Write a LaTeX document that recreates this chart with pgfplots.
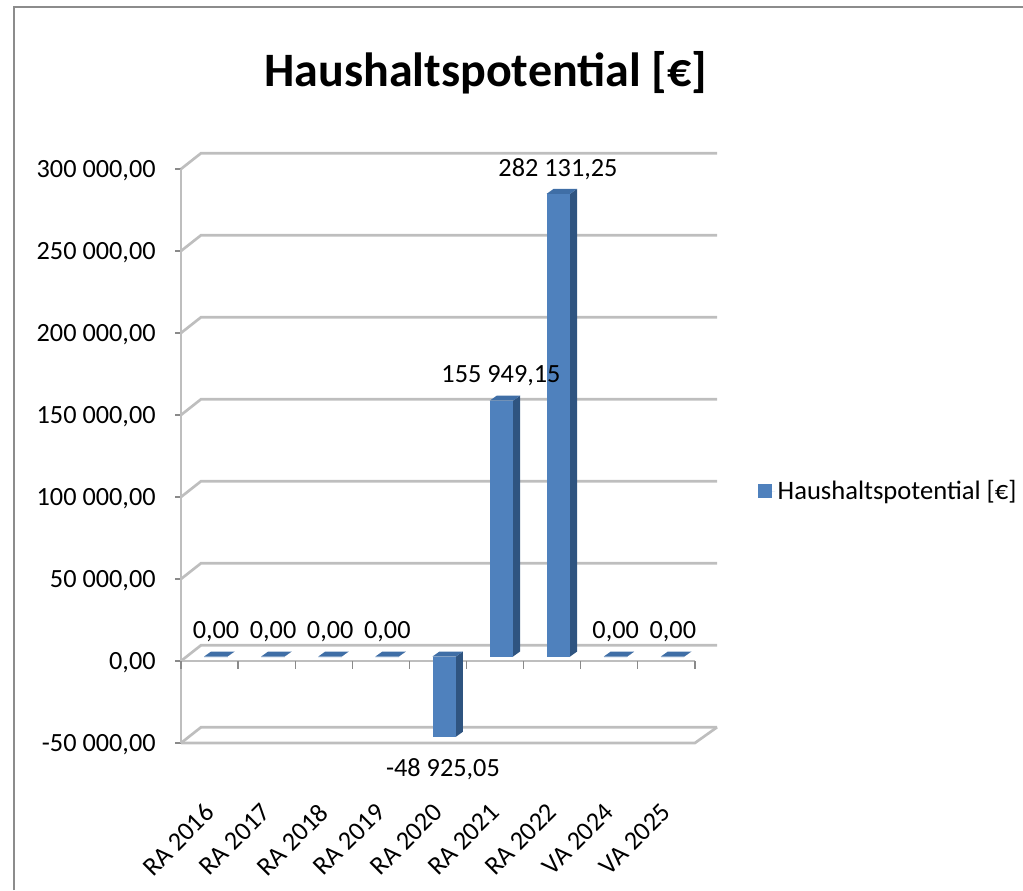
\documentclass[border=0pt]{standalone}
\usepackage{fontspec}
\setmainfont{Carlito}
\usepackage{pgfplots}
\pgfplotsset{compat=1.18}
\definecolor{barfront}{HTML}{4F81BD}
\definecolor{barside}{HTML}{2F5480}
\definecolor{bartop}{HTML}{3F6EA6}
\definecolor{gridgray}{HTML}{BEBEBE}
\definecolor{tickgray}{HTML}{8A8A8A}
\definecolor{framegray}{HTML}{8C8C8C}
% one 3-D bar: centre of category, value
\newcommand{\threedbar}[2]{%
  \edef\tmpa{\fpeval{#1+0.11-0.205}}\edef\tmpb{\fpeval{#1+0.11+0.205}}%
  \edef\ybase{\fpeval{2744}}\edef\yval{\fpeval{#2+2744}}\edef\ytop{\fpeval{max(#2,0)+2744}}%
  \edef\tmp{%
    \noexpand\addplot[forget plot,fill=barside,draw=none] coordinates {(\tmpb,\ybase) (\fpeval{\tmpb+0.1226},\fpeval{\ybase+3049}) (\fpeval{\tmpb+0.1226},\fpeval{\yval+3049}) (\tmpb,\yval)};
    \noexpand\addplot[forget plot,fill=barfront,draw=none] coordinates {(\tmpa,\ybase) (\tmpb,\ybase) (\tmpb,\yval) (\tmpa,\yval)};
    \noexpand\addplot[forget plot,fill=bartop,draw=none] coordinates {(\tmpa,\ytop) (\tmpb,\ytop) (\fpeval{\tmpb+0.1226},\fpeval{\ytop+3049}) (\fpeval{\tmpa+0.1226},\fpeval{\ytop+3049})};
  }\tmp}
% one grid line: front-left, back-left, back-right
\newcommand{\wallline}[1]{%
  \edef\tmp{\noexpand\addplot[forget plot,gridgray,line width=2pt] coordinates {(0,#1) (0.35,\fpeval{#1+9600}) (9.387,\fpeval{#1+9600})};}\tmp}
\begin{document}
\begin{tikzpicture}
\path[use as bounding box] (0,0) rectangle (767.25pt,667.5pt);
\draw[framegray,line width=1.2pt] (10.5pt,0) -- (10.5pt,662.25pt) -- (767.25pt,662.25pt);
\begin{axis}[
  at={(135.75pt,110.25pt)},anchor=south west,
  scale only axis,width=402pt,height=442.5pt,
  xmin=0,xmax=9.387,ymin=-50000,ymax=309750,
  clip=false,
  scaled ticks=false,
  axis line style={draw=none},
  tick pos=left,tick align=outside,major tick length=4.5pt,
  y tick style={tickgray,line width=1pt},
  x tick style={draw=none},
  ytick={-50000,0,50000,100000,150000,200000,250000,300000},
  yticklabels={{-50 000,00},{0,00},{50 000,00},{100 000,00},{150 000,00},{200 000,00},{250 000,00},{300 000,00}},
  yticklabel style={font=\fontsize{19.7}{24}\selectfont,xshift=-11pt,yshift=-1.5pt},
  xtick={0.5,1.5,2.5,3.5,4.5,5.5,6.5,7.5,8.5},
  xticklabels={RA 2016,RA 2017,RA 2018,RA 2019,RA 2020,RA 2021,RA 2022,VA 2024,VA 2025},
  xticklabel style={font=\fontsize{19.7}{24}\selectfont,xshift=-4.75pt,yshift=-34.75pt,rotate=45,anchor=north east},
  title={\bfseries Haushaltspotential [€]},
  title style={at={(0.5687,1.1220)},anchor=center,font=\fontsize{36}{44}\selectfont},
  legend style={at={(1.0765,0.427)},anchor=west,draw=none,fill=none,inner sep=0pt,outer sep=0pt,
    font=\fontsize{19.95}{24}\selectfont},
  legend cell align=left,
  legend image code/.code={\path (0pt,0pt) -- (12.75pt,0pt);\fill[#1] (0pt,-5.25pt) rectangle (10.5pt,5.25pt);},
]
\addlegendimage{fill=barfront,draw=none}
\addlegendentry{Haushaltspotential [€]}
% back wall and floor lines
\wallline{-50000}\wallline{0}\wallline{50000}\wallline{100000}\wallline{150000}\wallline{200000}\wallline{250000}\wallline{300000}
\addplot[forget plot,gridgray,line width=2pt] coordinates {(0,-50000) (0,300000)};
\addplot[forget plot,gridgray,line width=2pt] coordinates {(0,-50000) (9,-50000) (9.387,-40400)};
\addplot[forget plot,gridgray,line width=2pt] coordinates {(0,0) (9,0)};
% x tick marks on the zero line
\pgfplotsinvokeforeach{0,1,...,9}{\addplot[forget plot,tickgray,line width=1pt] coordinates {(#1,0) (#1,-4800)};}
% bars
\threedbar{0.5}{0}
\threedbar{1.5}{0}
\threedbar{2.5}{0}
\threedbar{3.5}{0}
\threedbar{4.5}{-48925.05}
\threedbar{5.5}{155949.15}
\threedbar{6.5}{282131.25}
\threedbar{7.5}{0}
\threedbar{8.5}{0}
% value labels
\addplot[forget plot,draw=none,mark=none,point meta=explicit symbolic,
  nodes near coords,
  every node near coord/.style={anchor=center,font=\fontsize{19.7}{24}\selectfont,inner sep=0pt,yshift=-1.5pt},
] coordinates {
  (0.613,18900) [0,00]
  (1.613,18900) [0,00]
  (2.613,18900) [0,00]
  (3.613,18900) [0,00]
  (4.588,-64600) [-48 925,05]
  (5.604,175000) [155 949,15]
  (6.602,301200) [282 131,25]
  (7.613,18900) [0,00]
  (8.613,18900) [0,00]
};
\end{axis}
\end{tikzpicture}
\end{document}
